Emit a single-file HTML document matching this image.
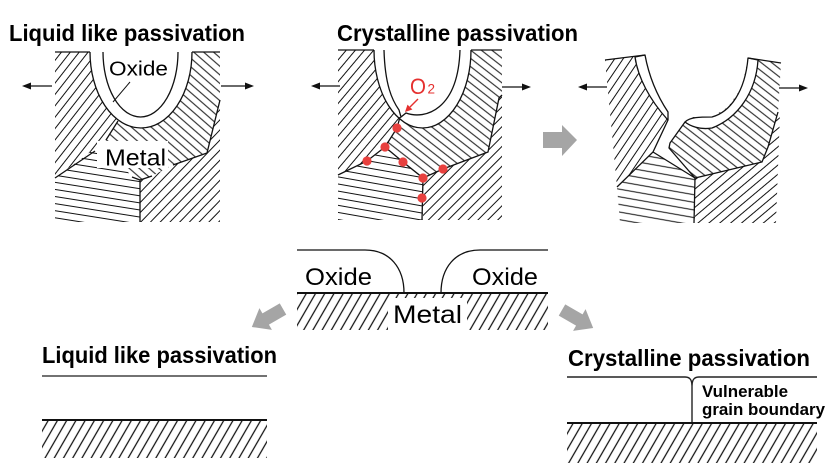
<!DOCTYPE html>
<html><head><meta charset="utf-8"><style>
html,body{margin:0;padding:0;background:#fff;}
svg{display:block;}
text{font-family:"Liberation Sans",sans-serif;}
</style></head><body>
<svg width="831" height="472" viewBox="0 0 831 472" xmlns="http://www.w3.org/2000/svg">
<defs>
<pattern id="pA1" patternUnits="userSpaceOnUse" width="20" height="7" patternTransform="rotate(-52)"><path d="M-1,3.5H21" stroke="#111" stroke-width="1"/></pattern>
<pattern id="pB1" patternUnits="userSpaceOnUse" width="20" height="6.5" patternTransform="rotate(41)"><path d="M-1,3.2H21" stroke="#111" stroke-width="1"/></pattern>
<pattern id="pC1" patternUnits="userSpaceOnUse" width="20" height="7" patternTransform="rotate(9)"><path d="M-1,3.5H21" stroke="#111" stroke-width="1"/></pattern>
<pattern id="pD1" patternUnits="userSpaceOnUse" width="20" height="7" patternTransform="rotate(-46)"><path d="M-1,3.5H21" stroke="#111" stroke-width="1"/></pattern>
<pattern id="pA2" patternUnits="userSpaceOnUse" width="20" height="7" patternTransform="rotate(-50)"><path d="M-1,3.5H21" stroke="#111" stroke-width="1"/></pattern>
<pattern id="pB2" patternUnits="userSpaceOnUse" width="20" height="6.5" patternTransform="rotate(38)"><path d="M-1,3.2H21" stroke="#111" stroke-width="1"/></pattern>
<pattern id="pC2" patternUnits="userSpaceOnUse" width="20" height="7" patternTransform="rotate(10)"><path d="M-1,3.5H21" stroke="#111" stroke-width="1"/></pattern>
<pattern id="pD2" patternUnits="userSpaceOnUse" width="20" height="7" patternTransform="rotate(-45)"><path d="M-1,3.5H21" stroke="#111" stroke-width="1"/></pattern>
<pattern id="pA3" patternUnits="userSpaceOnUse" width="20" height="7" patternTransform="rotate(-56)"><path d="M-1,3.5H21" stroke="#111" stroke-width="1"/></pattern>
<pattern id="pB3" patternUnits="userSpaceOnUse" width="20" height="6.5" patternTransform="rotate(38)"><path d="M-1,3.2H21" stroke="#111" stroke-width="1"/></pattern>
<pattern id="pC3" patternUnits="userSpaceOnUse" width="20" height="7.5" patternTransform="rotate(10)"><path d="M-1,3.7H21" stroke="#111" stroke-width="1"/></pattern>
<pattern id="pD3" patternUnits="userSpaceOnUse" width="20" height="7" patternTransform="rotate(-40)"><path d="M-1,3.5H21" stroke="#111" stroke-width="1"/></pattern>
<pattern id="pBot" patternUnits="userSpaceOnUse" width="20" height="8" patternTransform="rotate(-60)"><path d="M-1,4H21" stroke="#111" stroke-width="1.2"/></pattern>
</defs>
<rect width="831" height="472" fill="#fff"/>

<!-- ===== Panel 1 ===== -->
<text x="9" y="41" font-size="23.5" font-weight="bold" textLength="236" lengthAdjust="spacingAndGlyphs" fill="#000">Liquid like passivation</text>
<path d="M55,52H220V222H55Z" fill="url(#pB1)"/>
<path d="M55,52L95,52L118,121L104,142L55,178Z" fill="#fff"/>
<path d="M55,52L95,52L118,121L104,142L55,178Z" fill="url(#pA1)"/>
<path d="M55,178L104,142L132,177L140,180L140,222L55,222Z" fill="#fff"/>
<path d="M55,178L104,142L132,177L140,180L140,222L55,222Z" fill="url(#pC1)"/>
<path d="M140,180L152,176L173,165L207,153L220,100L220,222L140,222Z" fill="#fff"/>
<path d="M140,180L152,176L173,165L207,153L220,100L220,222L140,222Z" fill="url(#pD1)"/>
<path d="M90,52A51,76 0 0 0 192,52" fill="#fff" stroke="#111" stroke-width="1.3"/>
<path d="M103,52A37.5,65 0 0 0 178,52" fill="#fff" stroke="#111" stroke-width="1.3"/>
<rect x="97" y="141" width="71" height="27" fill="#fff"/>
<g stroke="#111" stroke-width="1.3" fill="none">
<path d="M55,52H90M192,52H220"/>
<path d="M118,121L106,140"/>
<path d="M95,151L55,178"/>
<path d="M132,177L140,180L152,176M140,180V222"/>
<path d="M220,100L207,153L173,165"/>
<path d="M130,82L113,102" stroke-width="1"/>
</g>
<text x="109" y="75.5" font-size="20" textLength="59" lengthAdjust="spacingAndGlyphs" fill="#000">Oxide</text>
<text x="105" y="165.5" font-size="23" textLength="61" lengthAdjust="spacingAndGlyphs" fill="#000">Metal</text>
<g stroke="#111" stroke-width="1.3"><path d="M52,86H30M221,86H246"/></g>
<polygon points="22,86 31,82.5 31,89.5" fill="#111"/>
<polygon points="254,86 245,82.5 245,89.5" fill="#111"/>

<!-- ===== Panel 2 ===== -->
<text x="337" y="41" font-size="23.5" font-weight="bold" textLength="241" lengthAdjust="spacingAndGlyphs" fill="#000">Crystalline passivation</text>
<path d="M338,50H502V220H338Z" fill="url(#pB2)"/>
<path d="M338,50L380,50L400,117L397,128L385,147L367,161L338,175Z" fill="#fff"/>
<path d="M338,50L380,50L400,117L397,128L385,147L367,161L338,175Z" fill="url(#pA2)"/>
<path d="M338,175L367,161L385,147L403,162L423,178L423,220L338,220Z" fill="#fff"/>
<path d="M338,175L367,161L385,147L403,162L423,178L423,220L338,220Z" fill="url(#pC2)"/>
<path d="M423,178L443,169L488,152L499,98L502,95L502,220L423,220Z" fill="#fff"/>
<path d="M423,178L443,169L488,152L499,98L502,95L502,220L423,220Z" fill="url(#pD2)"/>
<path d="M374,50A48.5,78 0 0 0 471,50" fill="#fff" stroke="#111" stroke-width="1.3"/>
<path d="M384,50C385,85 392,100 399,110L401,117L406,113C425,120 458,110 460,50" fill="#fff" stroke="#111" stroke-width="1.3"/>
<g stroke="#111" stroke-width="1.3" fill="none">
<path d="M338,50H374M471,50H502"/>
<path d="M400,117L397,128L385,147L367,161L338,175"/>
<path d="M385,147L403,162L423,178L443,169L488,152L499,98L502,95"/>
<path d="M423,178L422,220"/>
</g>
<g fill="#e8403e">
<circle cx="397" cy="128" r="4.6"/>
<circle cx="385" cy="147" r="4.6"/>
<circle cx="367" cy="161" r="4.6"/>
<circle cx="403" cy="162" r="4.6"/>
<circle cx="423" cy="178" r="4.6"/>
<circle cx="443" cy="169" r="4.6"/>
<circle cx="422" cy="198" r="4.6"/>
</g>
<text x="410" y="94" font-size="22" textLength="16" lengthAdjust="spacingAndGlyphs" fill="#e5302f">O</text>
<text x="427.5" y="93.5" font-size="13.5" fill="#e5302f">2</text>
<path d="M418,99L410,107" stroke="#e5302f" stroke-width="1.4"/>
<polygon points="405,112 407.5,104.6 412.4,109.5" fill="#e5302f"/>
<g stroke="#111" stroke-width="1.3"><path d="M340,86H320M502,87H522"/></g>
<polygon points="311,86 320,82.5 320,89.5" fill="#111"/>
<polygon points="531,87 522,83.5 522,90.5" fill="#111"/>

<!-- ===== Panel 3 ===== -->
<polygon points="543,132 562,132 562,125 577,140 562,156 562,148 543,148" fill="#a5a5a5"/>
<path d="M605,60L645,55L650,78L660,100L668,112L668,120L653,152L617,187Z" fill="url(#pA3)"/>
<path d="M617,187L653,152L695,178L695,223L620,223Z" fill="url(#pC3)"/>
<path d="M748,58L781,63L778,113L768,147L762,162L695,178L669,148L670,143L685,122L692,117L712,117L728,107L742,87Z" fill="url(#pB3)"/>
<path d="M695,178L762,162L768,147L778,113L780,113L776,223L695,223Z" fill="#fff"/>
<path d="M695,178L762,162L768,147L778,113L780,113L776,223L695,223Z" fill="url(#pD3)"/>
<path d="M635,57L645,55C650,82 660,100 668,112L668,120L667,119C650,100 638,78 635,57Z" fill="#fff" stroke="#111" stroke-width="1.3" stroke-linejoin="round"/>
<path d="M748,58L758,60C756,92 738,118 712,128C700,130 690,126 685,122C690,117 700,117 712,117C730,112 745,92 748,58Z" fill="#fff" stroke="#111" stroke-width="1.3" stroke-linejoin="round"/>
<g stroke="#111" stroke-width="1.3" fill="none">
<path d="M605,60L645,55"/>
<path d="M748,58L781,63"/>
<path d="M668,120L653,152L617,187"/>
<path d="M653,152L695,178"/>
<path d="M685,122L670,143L669,148L695,178L762,162L768,147L778,112"/>
<path d="M695,178L694,223"/>
</g>
<g stroke="#111" stroke-width="1.3"><path d="M607,87H587M779,88H799"/></g>
<polygon points="578,87 587,83.5 587,90.5" fill="#111"/>
<polygon points="808,88 799,84.5 799,91.5" fill="#111"/>

<!-- ===== Bottom middle ===== -->
<rect x="297" y="293" width="251" height="37" fill="url(#pBot)"/>
<rect x="388" y="298" width="79" height="34" fill="#fff"/>
<path d="M297,293H548" stroke="#111" stroke-width="2"/>
<path d="M297,250H365C390,250 404,268 404,293" fill="none" stroke="#111" stroke-width="1.3"/>
<path d="M441,293C441,268 455,250 480,250H548" fill="none" stroke="#111" stroke-width="1.3"/>
<text x="305" y="285" font-size="24.5" textLength="67" lengthAdjust="spacingAndGlyphs" fill="#000">Oxide</text>
<text x="472" y="285" font-size="24.5" textLength="66" lengthAdjust="spacingAndGlyphs" fill="#000">Oxide</text>
<text x="393" y="323" font-size="25" textLength="69" lengthAdjust="spacingAndGlyphs" fill="#000">Metal</text>

<!-- grey diagonal arrows -->
<polygon points="0,-6.5 20,-6.5 20,-12.5 36,0 20,12.5 20,6.5 0,6.5" fill="#a5a5a5" transform="translate(283,309) rotate(150)"/>
<polygon points="0,-6.5 20,-6.5 20,-12.5 36,0 20,12.5 20,6.5 0,6.5" fill="#a5a5a5" transform="translate(562,310) rotate(30)"/>

<!-- ===== Bottom left ===== -->
<text x="42" y="363" font-size="23.5" font-weight="bold" textLength="235" lengthAdjust="spacingAndGlyphs" fill="#000">Liquid like passivation</text>
<path d="M42,376H267" stroke="#444" stroke-width="1.5"/>
<rect x="42" y="420" width="225" height="38" fill="url(#pBot)"/>
<path d="M42,420H267" stroke="#111" stroke-width="2"/>

<!-- ===== Bottom right ===== -->
<text x="568" y="366" font-size="23.5" font-weight="bold" textLength="242" lengthAdjust="spacingAndGlyphs" fill="#000">Crystalline passivation</text>
<path d="M567,377H685C690,377 692,380 692,386V423M692,386C692,380 694,377 699,377H817" fill="none" stroke="#222" stroke-width="1.4"/>
<rect x="567" y="423" width="250" height="40" fill="url(#pBot)"/>
<path d="M567,423H817" stroke="#111" stroke-width="2"/>
<text x="702" y="397" font-size="16.5" font-weight="bold" textLength="86" lengthAdjust="spacingAndGlyphs" fill="#000">Vulnerable</text>
<text x="702" y="415" font-size="16.5" font-weight="bold" textLength="123" lengthAdjust="spacingAndGlyphs" fill="#000">grain boundary</text>
</svg>
</body></html>
